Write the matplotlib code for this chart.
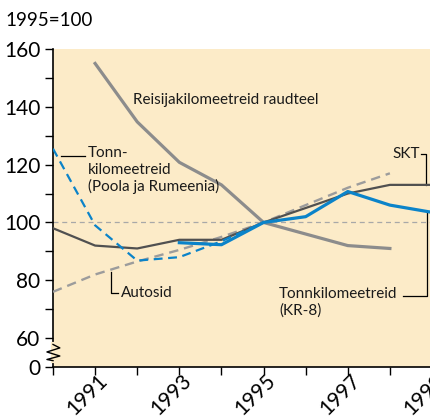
import matplotlib
matplotlib.use("Agg")
import matplotlib.pyplot as plt
import matplotlib.transforms as mtransforms

plt.rcParams['font.family'] = ['Lato', 'DejaVu Sans']

# Data (1995 = 100); the "0" tick is drawn at 50 because of the axis break
years = [1990, 1991, 1992, 1993, 1994, 1995, 1996, 1997, 1998, 1999]

rail_years = [1991, 1992, 1993, 1994, 1995, 1996, 1997, 1998]
rail_pass = [155, 134.8, 120.8, 113, 100, 96, 92, 91]

gdp = [98, 92, 91, 94, 94, 100, 105, 110, 113, 113]

car_years = [1990, 1991, 1992, 1993, 1994, 1995, 1996, 1997, 1998]
cars = [76, 82, 86.5, 90.5, 95, 100, 106, 112, 117]

pl_ro_years = [1990, 1991, 1992, 1993, 1994, 1995]
pl_ro = [125.5, 99, 86.8, 88, 93.5, 100]

kr8_years = [1993, 1994, 1995, 1996, 1997, 1998, 1999]
kr8 = [93, 92.3, 100, 102, 110.7, 106, 103.5]

ytick_vals = [50, 60, 80, 100, 120, 140, 160]
ytick_labels = ['0', '60', '80', '100', '120', '140', '160']

BG = '#FCEBC8'
BLUE = '#0B83C9'
GREY = '#8C8C8C'
DARK = '#505050'

fig = plt.figure(figsize=(4.31, 4.17), dpi=100)
ax = fig.add_axes([53 / 431, 50 / 417, 379 / 431, 318 / 417])
ax.set_facecolor(BG)

ax.axhline(100, color='#A8A8A8', linestyle=(0, (4, 3)), linewidth=0.9, zorder=1)

ax.plot(rail_years, rail_pass, color=GREY, linewidth=2.3, zorder=3)
ax.plot(car_years, cars, color='#9C9C9C', linewidth=1.7, linestyle=(0, (4, 2.5)), zorder=3)
ax.plot(years, gdp, color=DARK, linewidth=1.6, zorder=3)
ax.plot(pl_ro_years, pl_ro, color=BLUE, linewidth=1.6, linestyle=(0, (4, 2.5)), zorder=4)
ax.plot(kr8_years, kr8, color=BLUE, linewidth=2.3, zorder=5)

ax.set_xlim(1990, 1999)
ax.set_ylim(50, 160)

ax.set_xticks(years)
ax.set_xticklabels(['' if y % 2 == 0 else str(y) for y in years],
                   rotation=45, ha='right', rotation_mode='anchor', fontsize=15)
ax.set_yticks(ytick_vals)
ax.set_yticklabels(ytick_labels, fontsize=15)
ax.set_yticks([70, 90, 110, 130, 150], minor=True)
ax.tick_params(axis='both', which='both', direction='out', length=6, width=1, color='black')
ax.tick_params(axis='x', pad=3)
ax.tick_params(axis='y', pad=3)

shift = mtransforms.ScaledTranslation(2 / 100, 9 / 100, fig.dpi_scale_trans)
for lab in ax.get_xticklabels():
    lab.set_transform(lab.get_transform() + shift)

for s in ['top', 'right']:
    ax.spines[s].set_visible(False)
for s in ['left', 'bottom']:
    ax.spines[s].set_linewidth(1.2)

# axis break mark
trans = mtransforms.blended_transform_factory(ax.transAxes, ax.transData)
ax.plot([0, 0], [52.2, 57.8], color=BG, linewidth=3, transform=trans, clip_on=False, zorder=6)
ax.plot([0, 0.018, -0.016, 0.018, -0.016, 0], [57.8, 56.6, 55.2, 53.8, 52.6, 52.2],
        color='black', linewidth=1, transform=trans, clip_on=False, zorder=7)

fs = 11
ax.text(1991.9, 142.4, 'Reisijakilomeetreid raudteel', fontsize=fs, va='center', ha='left', color='#1a1a1a')

ax.plot([1990.19, 1990.76], [123.1, 123.1], color='black', linewidth=0.9)
ax.text(1990.83, 123.1 + 3.2, 'Tonn-\nkilomeetreid\n(Poola ja Rumeenia)', fontsize=fs,
        va='top', ha='left', linespacing=1.2, color='#1a1a1a')

ax.plot([1991.38, 1991.38, 1991.54], [82.8, 75.5, 75.5], color='black', linewidth=0.9)
ax.text(1991.62, 75.5, 'Autosid', fontsize=fs, va='center', ha='left', color='#1a1a1a')

ax.plot([1998.74, 1998.86, 1998.86], [123.8, 123.8, 113], color='black', linewidth=0.9, clip_on=False)
ax.text(1998.72, 123.8, 'SKT', fontsize=fs, va='center', ha='right', color='#1a1a1a')

ax.plot([1998.31, 1998.88, 1998.88], [74.5, 74.5, 103.5], color='black', linewidth=0.9, clip_on=False)
ax.text(1995.37, 74.8 + 3.0, 'Tonnkilomeetreid\n(KR-8)', fontsize=fs, va='top', ha='left',
        linespacing=1.2, color='#1a1a1a')

fig.text(5 / 431, 1 - 20 / 417, '1995=100', fontsize=13.5, va='center', ha='left')

fig.savefig('out.png', dpi=100)
